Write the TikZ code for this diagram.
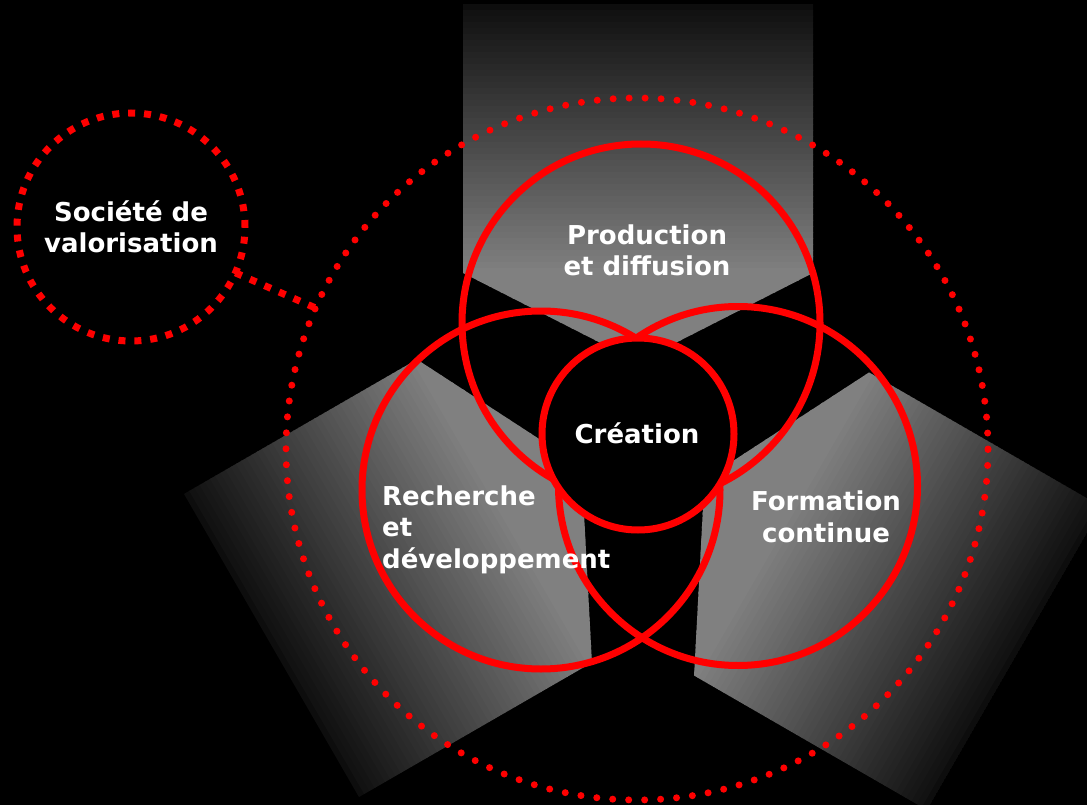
\documentclass[tikz,border=0pt]{standalone}
\usepackage{fontspec}
\setmainfont{DejaVu Sans}

\begin{document}
\begin{tikzpicture}[x=1pt, y=-1pt,
    venn/.style={circle, draw=red, line width=7pt, inner sep=0pt, outer sep=0pt},
    rounddots/.style={circle, draw=red, line width=7pt, line cap=round, dash pattern=on 0pt off 15.98pt, inner sep=0pt, outer sep=0pt},
    squaredots/.style={draw=red, line width=7pt, dash pattern=on 7pt off 8.9pt},
    lbl/.style={text=white, font=\bfseries\fontsize{26}{31.5}\selectfont, inner sep=0pt}]
    \useasboundingbox (0,0) rectangle (1087,805);
    \fill[black] (0,0) rectangle (1087,805);
    \clip (0,0) rectangle (1087,805);
    % grey arms
    \foreach \ang/\dx/\dy in {0/0/0, 120/5/-2, -120/5/11} {
        \begin{scope}[shift={(\dx,\dy)}, rotate around={\ang:(638,433)}]
            \clip (463,4) -- (813,4) -- (813,273) -- (638,362) -- (463,273) -- cycle;
            \foreach \d in {0,6,...,360} {
                \pgfmathtruncatemacro\blk{max(50,95-0.17*\d)}
                \fill[black!\blk!white] (455,4+\d) rectangle (821,11+\d);
            }
        \end{scope}
    }
    % circles
    \node[venn, minimum size=358] (prod) at (641,323) {};
    \node[venn, minimum size=358] (rech) at (541,490) {};
    \node[venn, minimum size=359] (form) at (738,486) {};
    \node[rounddots, minimum size=702] (ring) at (637,449) {};
    \node[circle, squaredots, minimum size=228, inner sep=0pt, outer sep=0pt] (valo) at (131,227) {};
    \draw[squaredots] (valo) -- (ring);
    \node[venn, fill=black, minimum size=192] (crea) at (638,434) {};
    % labels (base = last line)
    \node[lbl, anchor=base, align=center] (prodlbl) at (647,276) {Production\\et diffusion};
    \node[lbl, anchor=base] (crealbl) at (637,443) {Création};
    \node[lbl, anchor=base west, align=left] (rechlbl) at (382,568) {Recherche\\et\\développement};
    \node[lbl, anchor=base, align=center] (formlbl) at (826,542) {Formation\\continue};
    \node[lbl, anchor=base, align=center] (valolbl) at (131,253) {Société de\\valorisation};
\end{tikzpicture}
\end{document}
